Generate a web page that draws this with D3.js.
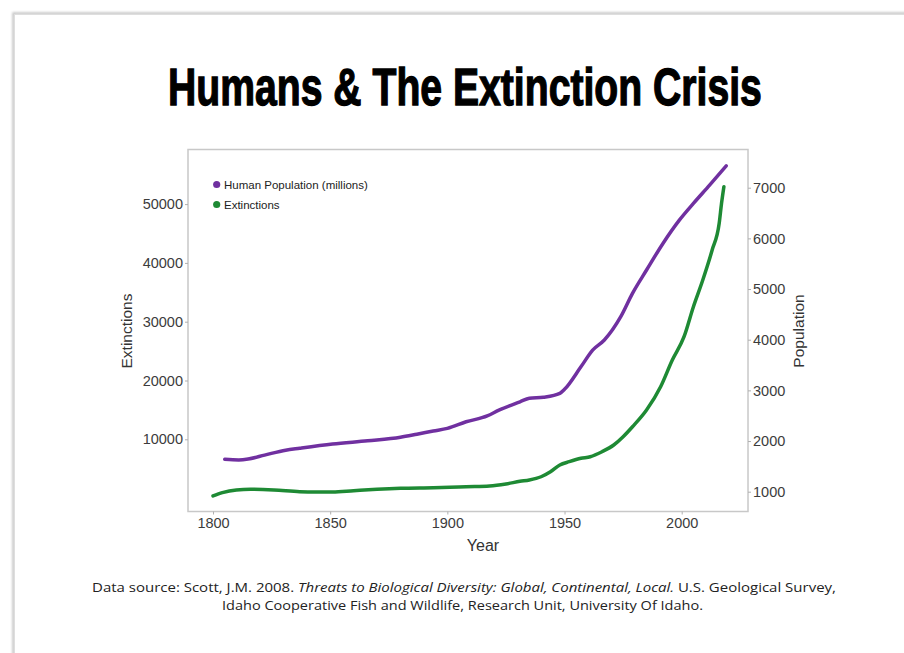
<!DOCTYPE html>
<html>
<head>
<meta charset="utf-8">
<script src="https://cdn.jsdelivr.net/npm/d3@7"></script>
<style>
  html, body { margin: 0; padding: 0; background: #ffffff; }
  svg { display: block; }
</style>
</head>
<body>
<svg id="chart" width="904" height="653"></svg>
<script>
// ---- data ----
const popYears  = [1805,1811,1815,1822,1831,1837,1851,1866,1880,1887,1894,1900,1908,1917,1922,1931,1935,1941,1948,1950,1957,1962,1967,1974,1979,1985,1992,1999,2005,2012,2019];
const popValues = [1640,1628,1645,1722,1820,1858,1940,2005,2075,2135,2198,2250,2380,2495,2610,2775,2845,2865,2940,3020,3465,3795,3995,4455,4915,5375,5900,6360,6690,7055,7430];

const extYears  = [1800,1804,1810,1816,1826,1837,1844,1851,1860,1870,1880,1894,1901,1908,1918,1925,1931,1935,1940,1944,1948,1952,1957,1961,1966,1971,1975,1979,1985,1991,1996,2001,2005,2009,2013,2016,2017,2018];
const extValues = [360,920,1380,1500,1380,1090,1040,1040,1260,1500,1670,1770,1840,1940,2060,2400,2850,3080,3630,4480,5630,6190,6770,7040,7890,9030,10440,12140,14980,18940,23490,27450,32550,37090,42190,46730,50130,52960];

const xTicks = [1800,1850,1900,1950,2000];
const leftTicks = [10000,20000,30000,40000,50000];
const rightTicks = [1000,2000,3000,4000,5000,6000,7000];

const seriesNames = ["Human Population (millions)", "Extinctions"];
const seriesColors = ["#7030a0", "#1e8a34"];

const titleText = "Humans & The Extinction Crisis";

// ---- layout ----
const svg = d3.select("#chart");
const frame = {left: 188, right: 748, top: 149.5, bottom: 511.5};

const x = d3.scaleLinear().domain([1800, 2000]).range([213, 681.7]);
const yL = d3.scaleLinear().domain([0, 50000]).range([498.1, 204.1]);
const yR = d3.scaleLinear().domain([1000, 7000]).range([491.7, 187.7]);

// slide card with soft shadow
const defs = svg.append("defs");
const f = defs.append("filter").attr("id", "blur").attr("x", "-5%").attr("y", "-5%").attr("width", "110%").attr("height", "110%");
f.append("feGaussianBlur").attr("stdDeviation", 1.2);
svg.append("rect").attr("x", 13.5).attr("y", 13.5).attr("width", 1000).attr("height", 1000)
  .attr("fill", "none").attr("stroke", "#c4c4c4").attr("stroke-width", 2.5).attr("filter", "url(#blur)");
svg.append("rect").attr("x", 14.5).attr("y", 14.5).attr("width", 1000).attr("height", 1000)
  .attr("fill", "#ffffff").attr("stroke", "#dedede").attr("stroke-width", 1);

// title (condensed heavy look: scale horizontally to the reference width)
const titleG = svg.append("g");
const title = titleG.append("text")
  .attr("x", 0).attr("y", 0)
  .attr("font-family", "'Liberation Sans Narrow', 'Liberation Sans', Arial, sans-serif")
  .attr("font-weight", "bold").attr("font-size", 52)
  .attr("fill", "#000").attr("stroke", "#000").attr("stroke-width", 1.3)
  .text(titleText);
const tw = title.node().getComputedTextLength();
const sx = 594 / tw;
titleG.attr("transform", `translate(168,105) scale(${sx},1)`);

// plot frame
svg.append("rect")
  .attr("x", frame.left).attr("y", frame.top)
  .attr("width", frame.right - frame.left).attr("height", frame.bottom - frame.top)
  .attr("fill", "#ffffff").attr("stroke", "#c8c8c8").attr("stroke-width", 1.5);

const tickFont = "'Liberation Sans', Arial, sans-serif";
function styleAxis(g) {
  g.select(".domain").remove();
  g.selectAll(".tick line").attr("stroke", "#b0b0b0");
  g.selectAll(".tick text").attr("fill", "#3c3c3c").attr("font-size", 14.5).attr("font-family", tickFont);
}

svg.append("g").attr("transform", `translate(0,${frame.bottom})`)
  .call(d3.axisBottom(x).tickValues(xTicks).tickSize(3).tickPadding(3).tickFormat(d3.format("d")))
  .call(styleAxis);

svg.append("g").attr("transform", `translate(${frame.left},0)`)
  .call(d3.axisLeft(yL).tickValues(leftTicks).tickSize(3).tickPadding(2).tickFormat(d3.format("d")))
  .call(styleAxis);

svg.append("g").attr("transform", `translate(${frame.right},0)`)
  .call(d3.axisRight(yR).tickValues(rightTicks).tickSize(3).tickPadding(2).tickFormat(d3.format("d")))
  .call(styleAxis);

// axis titles
svg.append("text").attr("x", 483).attr("y", 551).attr("text-anchor", "middle")
  .attr("font-family", tickFont).attr("font-size", 16).attr("fill", "#333").text("Year");
svg.append("text").attr("transform", "translate(132,331) rotate(-90)").attr("text-anchor", "middle")
  .attr("font-family", tickFont).attr("font-size", 15.5).attr("fill", "#333").text("Extinctions");
svg.append("text").attr("transform", "translate(804,331) rotate(-90)").attr("text-anchor", "middle")
  .attr("font-family", tickFont).attr("font-size", 15.5).attr("fill", "#333").text("Population");

// lines
const popData = popYears.map((yr, i) => ({x: yr, y: popValues[i]}));
const extData = extYears.map((yr, i) => ({x: yr, y: extValues[i]}));

const popLine = d3.line().x(d => x(d.x)).y(d => yR(d.y)).curve(d3.curveMonotoneX);
const extLine = d3.line().x(d => x(d.x)).y(d => yL(d.y)).curve(d3.curveMonotoneX);

svg.append("path").datum(popData).attr("d", popLine)
  .attr("fill", "none").attr("stroke", seriesColors[0]).attr("stroke-width", 3.5)
  .attr("stroke-linejoin", "round").attr("stroke-linecap", "round");
svg.append("path").datum(extData).attr("d", extLine)
  .attr("fill", "none").attr("stroke", seriesColors[1]).attr("stroke-width", 3.5)
  .attr("stroke-linejoin", "round").attr("stroke-linecap", "round");

// legend
const legend = svg.append("g");
seriesNames.forEach((name, i) => {
  const ly = 184.5 + i * 20;
  legend.append("circle").attr("cx", 216.7).attr("cy", ly).attr("r", 3.6).attr("fill", seriesColors[i]);
  legend.append("text").attr("x", 224).attr("y", ly + 4).attr("font-family", tickFont)
    .attr("font-size", 11.5).attr("fill", "#222").text(name);
});

// source
const src = svg.append("g").attr("font-family", "'Open Sans', 'Liberation Sans', sans-serif").attr("font-size", 12).attr("fill", "#222");
const l1 = src.append("text").attr("x", 92).attr("y", 592).attr("textLength", 744).attr("lengthAdjust", "spacingAndGlyphs");
l1.append("tspan").text("Data source: Scott, J.M. 2008. ");
l1.append("tspan").attr("font-style", "italic").text("Threats to Biological Diversity: Global, Continental, Local.");
l1.append("tspan").text(" U.S. Geological Survey,");
src.append("text").attr("x", 222).attr("y", 610).attr("textLength", 481).attr("lengthAdjust", "spacingAndGlyphs")
  .text("Idaho Cooperative Fish and Wildlife, Research Unit, University Of Idaho.");
</script>
</body>
</html>
